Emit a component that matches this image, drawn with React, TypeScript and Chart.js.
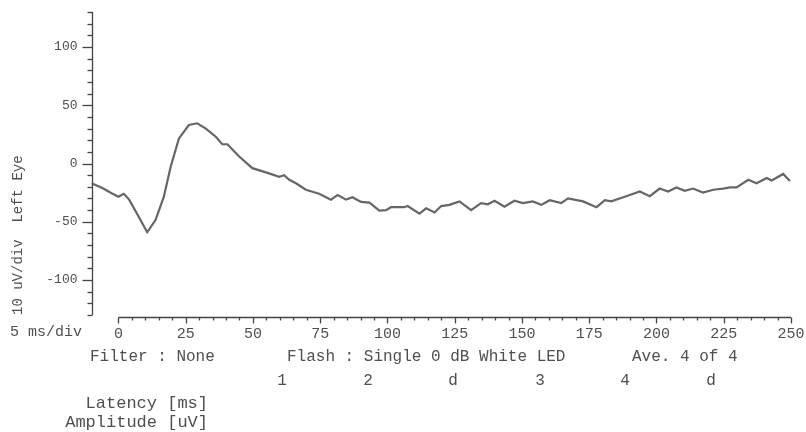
import { useEffect, useRef } from "react";
import { Chart, registerables } from "chart.js";

Chart.register(...registerables);

// ---- data ----
const latency = [
  -10, -6, -2.5, 0, 2, 4, 7.5, 10.7, 13.8, 16.9, 19.4, 22.5, 26.2, 29.3, 32.5, 36.2, 38.6, 40.5, 44.9, 49.8,
  56, 59.8, 61.6, 63.5, 66, 69.7, 74.6, 79, 81.5, 84.6, 87, 90.2, 93.3, 97, 99.5, 101.3, 106.3, 107.5, 111.9,
  114.4, 117.5, 120, 123, 126.8, 131.1, 134.8, 137.3, 139.8, 143.5, 147.2, 150.3, 154, 157.2, 160.3, 164.6,
  167.1, 172.7, 177.7, 180.8, 183.2, 188.2, 193.8, 197.5, 201.2, 204.3, 207.4, 210.5, 213.6, 217.3, 221.1,
  224.8, 227.3, 229.8, 234.1, 237.2, 241, 242.8, 247.1, 249.6,
];
const amplitude = [
  -17, -21, -25.5, -28.5, -26, -31, -45.5, -59, -48.5, -28.5, -3, 21.5, 33, 34.5, 30, 23, 16.5, 16.5, 6, -4,
  -8.5, -11.5, -10, -14, -17, -22.5, -26, -31, -27, -31, -29, -33, -33.5, -40.5, -40, -37.5, -37.5, -36.5, -43,
  -38.5, -42, -36.5, -35.5, -32.5, -40, -34, -35, -32, -37, -32, -34, -32.5, -35.5, -31.5, -34,
  -30, -32.5, -37.5, -31.5, -32.5, -28.5, -24, -28, -21.5, -24, -20.5, -23.5, -21.5, -25, -22.5,
  -21.5, -20.5, -20.5, -14, -17, -12.5, -14.5, -9, -15,
];

const xTickValues = [0, 25, 50, 75, 100, 125, 150, 175, 200, 225, 250];
const yTickValues = [-100, -50, 0, 50, 100];
const X_MIN = -10;
const X_MAX = 250;
const Y_MIN = -130;
const Y_MAX = 130;
const X_MINOR_STEP = 5;
const X_MAJOR_STEP = 25;
const Y_MINOR_STEP = 10;
const Y_MAJOR_STEP = 50;

const yTitle = "10 uV/div  Left Eye";
const xScaleLabel = "5 ms/div";
const filterText = "Filter : None";
const flashText = "Flash : Single 0 dB White LED";
const aveText = "Ave. 4 of 4";
const markerLabels = ["1", "2", "d", "3", "4", "d"];
const latencyText = "Latency [ms]";
const amplitudeText = "Amplitude [uV]";

// ---- style ----
const FONT = "'Liberation Mono', 'Courier New', monospace";
const TEXT_COLOR = "#4f4f4f";
const AXIS_COLOR = "#444444";
const LINE_COLOR = "#666666";

const decorPlugin = {
  id: "decor",
  afterDraw(chart: any) {
    const { ctx, chartArea, scales } = chart;
    const x = scales.x;
    const y = scales.y;
    const line = (x1: number, y1: number, x2: number, y2: number) => {
      ctx.beginPath();
      ctx.moveTo(x1, y1);
      ctx.lineTo(x2, y2);
      ctx.stroke();
    };
    ctx.save();
    ctx.strokeStyle = AXIS_COLOR;
    ctx.lineWidth = 1.3;

    // y axis
    const yx = Math.round(chartArea.left) + 0.5;
    line(yx, y.getPixelForValue(Y_MAX), yx, y.getPixelForValue(Y_MIN));
    for (let v = Y_MIN; v <= Y_MAX; v += Y_MINOR_STEP) {
      const py = Math.round(y.getPixelForValue(v)) + 0.5;
      const len = v % Y_MAJOR_STEP === 0 ? 10 : 5;
      line(yx - len, py, yx, py);
    }

    // x axis
    const xy = Math.round(chartArea.bottom) + 2.5;
    line(x.getPixelForValue(0), xy, x.getPixelForValue(X_MAX), xy);
    for (let v = 0; v <= X_MAX; v += X_MINOR_STEP) {
      const px = Math.round(x.getPixelForValue(v)) + 0.5;
      const len = v % X_MAJOR_STEP === 0 ? 6 : 3;
      line(px, xy, px, xy + len);
    }

    // annotation text
    ctx.fillStyle = TEXT_COLOR;
    ctx.textBaseline = "middle";
    ctx.textAlign = "left";
    ctx.font = `15px ${FONT}`;
    ctx.fillText(xScaleLabel, 10, 332);

    ctx.font = `16px ${FONT}`;
    ctx.fillText(filterText, 90, 357);
    ctx.fillText(flashText, 287, 357);
    ctx.fillText(aveText, 632, 357);

    ctx.textAlign = "center";
    const markerX = [282, 368, 453, 540, 625, 711];
    markerLabels.forEach((m, i) => ctx.fillText(m, markerX[i], 381));

    ctx.textAlign = "right";
    ctx.font = `17px ${FONT}`;
    ctx.fillText(latencyText, 208, 403);
    ctx.fillText(amplitudeText, 208, 422);
    ctx.restore();
  },
};

export default function App() {
  const canvasRef = useRef<HTMLCanvasElement | null>(null);

  useEffect(() => {
    const canvas = canvasRef.current;
    if (!canvas) return;
    const chart = new Chart(canvas, {
      type: "line",
      data: {
        datasets: [
          {
            data: latency.map((t, i) => ({ x: t, y: amplitude[i] })),
            borderColor: LINE_COLOR,
            borderWidth: 2.2,
            pointRadius: 0,
            tension: 0,
            fill: false,
          },
        ],
      },
      options: {
        animation: false,
        responsive: false,
        layout: { padding: { top: 12, right: 15, left: 0, bottom: 0 } },
        plugins: { legend: { display: false }, tooltip: { enabled: false } },
        scales: {
          x: {
            type: "linear",
            min: X_MIN,
            max: X_MAX,
            grid: { display: false, drawTicks: false },
            border: { display: false },
            afterBuildTicks: (s: any) => {
              s.ticks = xTickValues.map((v) => ({ value: v }));
            },
            afterFit: (s: any) => {
              s.height = 117;
              s.paddingLeft = 0;
              s.paddingRight = 0;
            },
            ticks: {
              font: { family: FONT, size: 15 },
              color: TEXT_COLOR,
              padding: 10,
              maxRotation: 0,
              autoSkip: false,
              callback: (v: any) => String(v),
            },
          },
          y: {
            type: "linear",
            min: Y_MIN,
            max: Y_MAX,
            grid: { display: false, drawTicks: false },
            border: { display: false },
            afterBuildTicks: (s: any) => {
              s.ticks = yTickValues.map((v) => ({ value: v }));
            },
            afterFit: (s: any) => {
              s.width = 91.5;
              s.paddingTop = 0;
              s.paddingBottom = 0;
            },
            ticks: {
              font: { family: FONT, size: 13 },
              color: TEXT_COLOR,
              padding: 14,
              callback: (v: any) => String(v),
            },
            title: {
              display: true,
              text: yTitle,
              align: "start",
              color: TEXT_COLOR,
              font: { family: FONT, size: 14 },
              padding: { top: 10, bottom: 0 },
            },
          },
        },
      },
      plugins: [decorPlugin],
    });
    return () => chart.destroy();
  }, []);

  return (
    <div style={{ position: "absolute", left: 0, top: 0, width: 806, height: 432, background: "#ffffff" }}>
      <canvas ref={canvasRef} width={806} height={432} style={{ display: "block" }} />
    </div>
  );
}
